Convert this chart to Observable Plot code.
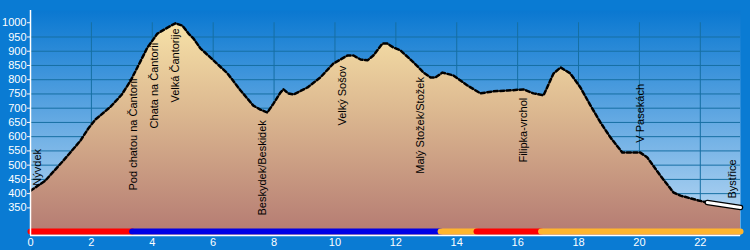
<!DOCTYPE html>
<html><head><meta charset="utf-8">
<script src="https://cdn.jsdelivr.net/npm/d3@7"></script>
<script src="https://cdn.jsdelivr.net/npm/@observablehq/plot@0.6"></script>
<style>
html,body{margin:0;padding:0;background:#0a7bd3;}
#chart{width:750px;height:250px;}
</style></head><body><div id="chart"></div>
<script>
// Elevation profile (km, m)
const km   = [0, 0.49, 1.08, 1.64, 1.9, 2.13, 2.63, 3.0, 3.28, 3.51, 3.84, 4.17, 4.5, 4.76, 4.99, 5.19, 5.35, 5.58, 6.01, 6.47, 6.9, 7.32, 7.55, 7.78, 7.98, 8.21, 8.31, 8.47, 8.64, 9.1, 9.52, 9.95, 10.41, 10.61, 10.84, 11.07, 11.26, 11.56, 11.72, 11.92, 12.15, 12.58, 12.91, 13.14, 13.3, 13.53, 13.89, 14.35, 14.78, 15.2, 15.67, 16.19, 16.52, 16.85, 17.18, 17.41, 17.73, 18.06, 18.39, 18.72, 19.05, 19.44, 20.03, 20.26, 20.69, 21.12, 21.35, 21.94, 22.23, 23.32];
const elev = [410, 446, 516, 586, 629, 660, 705, 748, 795, 843, 913, 962, 983, 998, 990, 962, 945, 910, 868, 822, 762, 709, 695, 685, 716, 755, 766, 752, 748, 773, 808, 857, 885, 885, 871, 868, 885, 927, 927, 913, 903, 861, 825, 808, 808, 825, 815, 780, 752, 759, 762, 766, 752, 745, 822, 843, 822, 773, 710, 650, 597, 544, 544, 527, 463, 404, 393, 376, 369, 351];

// Waypoint labels
const placeNames = ["Nývdek", "Pod chatou na Čantorii", "Chata na Čantorii", "Velká Čantorije", "Beskydek/Beskidek", "Velký Sošov", "Malý Stožek/Stožek", "Filipka-vrchol", "V Pasekách", "Bystřice"];
const placeKm    = [0.23, 3.38, 4.08, 4.76, 7.62, 10.25, 12.8, 16.19, 20.03, 23.05];
const placeElev  = [428, 411, 629, 720, 323, 639, 470, 509, 579, 383];

// Route surface bar
const routeColor = ["#ff0000", "#0000e6", "#ffb52e", "#ff0000", "#ffb52e"];
const routeStart = [0, 3.34, 13.47, 14.65, 16.77];
const routeEnd   = [3.34, 13.47, 14.65, 16.77, 23.32];

// Highlighted final stretch
const finalFrom = 22.0;

const yTicks = d3.range(350, 1001, 50);
const xTicks = d3.range(0, 23, 2);

const profile = km.map((k, i) => ({km: k, elev: elev[i]}));
const finalStretch = profile.filter(d => d.km >= finalFrom);
const places = placeNames.map((n, i) => ({name: n, km: placeKm[i], elev: placeElev[i]}));
const route = routeColor.map((c, i) => ({color: c, start: routeStart[i], end: routeEnd[i]}));

const yMin = 253, yMax = 1043;
const font = "'Liberation Sans', Arial, sans-serif";

const chart = Plot.plot({
  width: 750, height: 250,
  marginLeft: 30, marginRight: 10, marginTop: 10, marginBottom: 15,
  style: {background: "#0a7bd3", fontFamily: font, fontSize: "11px", color: "white", overflow: "visible"},
  x: {domain: [0, 23.32], label: null},
  y: {domain: [yMin, yMax], label: null},
  color: {type: "identity"},
  marks: [
    Plot.frame({fill: "url(#bgGrad)", stroke: null}),
    Plot.ruleY(yTicks.filter(d => d < 1000), {stroke: "#166fa3", strokeWidth: 1}),
    Plot.ruleX(xTicks.filter(d => d > 0), {y1: yMin, y2: 1000, stroke: "#166fa3", strokeWidth: 1}),
    Plot.areaY(profile, {x: "km", y1: yMin, y2: "elev", fill: "url(#areaGrad)"}),
    Plot.line(profile, {x: "km", y: "elev", stroke: "black", strokeWidth: 2.5, strokeDasharray: "4,2.5"}),
    Plot.line(finalStretch, {x: "km", y: "elev", stroke: "black", strokeWidth: 5.5, strokeLinecap: "round"}),
    Plot.line(finalStretch, {x: "km", y: "elev", stroke: "white", strokeWidth: 3, strokeLinecap: "round"}),
    Plot.text(places, {x: "km", y: "elev", text: "name", rotate: -90, textAnchor: "start", fill: "black", fontSize: 11, fontFamily: font}),
    Plot.link(route, {x1: "start", x2: "end", y1: yMin, y2: yMin, dy: -4, stroke: "color", strokeWidth: 6, strokeLinecap: "round"}),
    Plot.ruleY([yMin], {stroke: "white", strokeWidth: 1.5}),
    Plot.ruleX([0], {stroke: "white", strokeWidth: 1.5}),
    Plot.axisY(yTicks, {tickSize: 3, tickPadding: 1, tickFormat: d => String(d), fontSize: 11, label: null}),
    Plot.axisX(xTicks, {tickSize: 0, tickPadding: 3, tickFormat: d => String(d), fontSize: 11, label: null})
  ]
});

const ns = "http://www.w3.org/2000/svg";
const defs = document.createElementNS(ns, "defs");
function grad(id, stops) {
  const g = document.createElementNS(ns, "linearGradient");
  g.setAttribute("id", id);
  g.setAttribute("gradientUnits", "userSpaceOnUse");
  g.setAttribute("x1", 0); g.setAttribute("x2", 0);
  g.setAttribute("y1", 10); g.setAttribute("y2", 235);
  for (const [o, c] of stops) {
    const s = document.createElementNS(ns, "stop");
    s.setAttribute("offset", o); s.setAttribute("stop-color", c);
    g.appendChild(s);
  }
  defs.appendChild(g);
}
grad("bgGrad", [[0, "#0a78d1"], [1, "#c2ddf5"]]);
grad("areaGrad", [[0, "#fbe8ab"], [0.45, "#dcb890"], [1, "#b47a72"]]);
chart.insertBefore(defs, chart.firstChild);
document.getElementById("chart").appendChild(chart);
</script>
</body></html>
